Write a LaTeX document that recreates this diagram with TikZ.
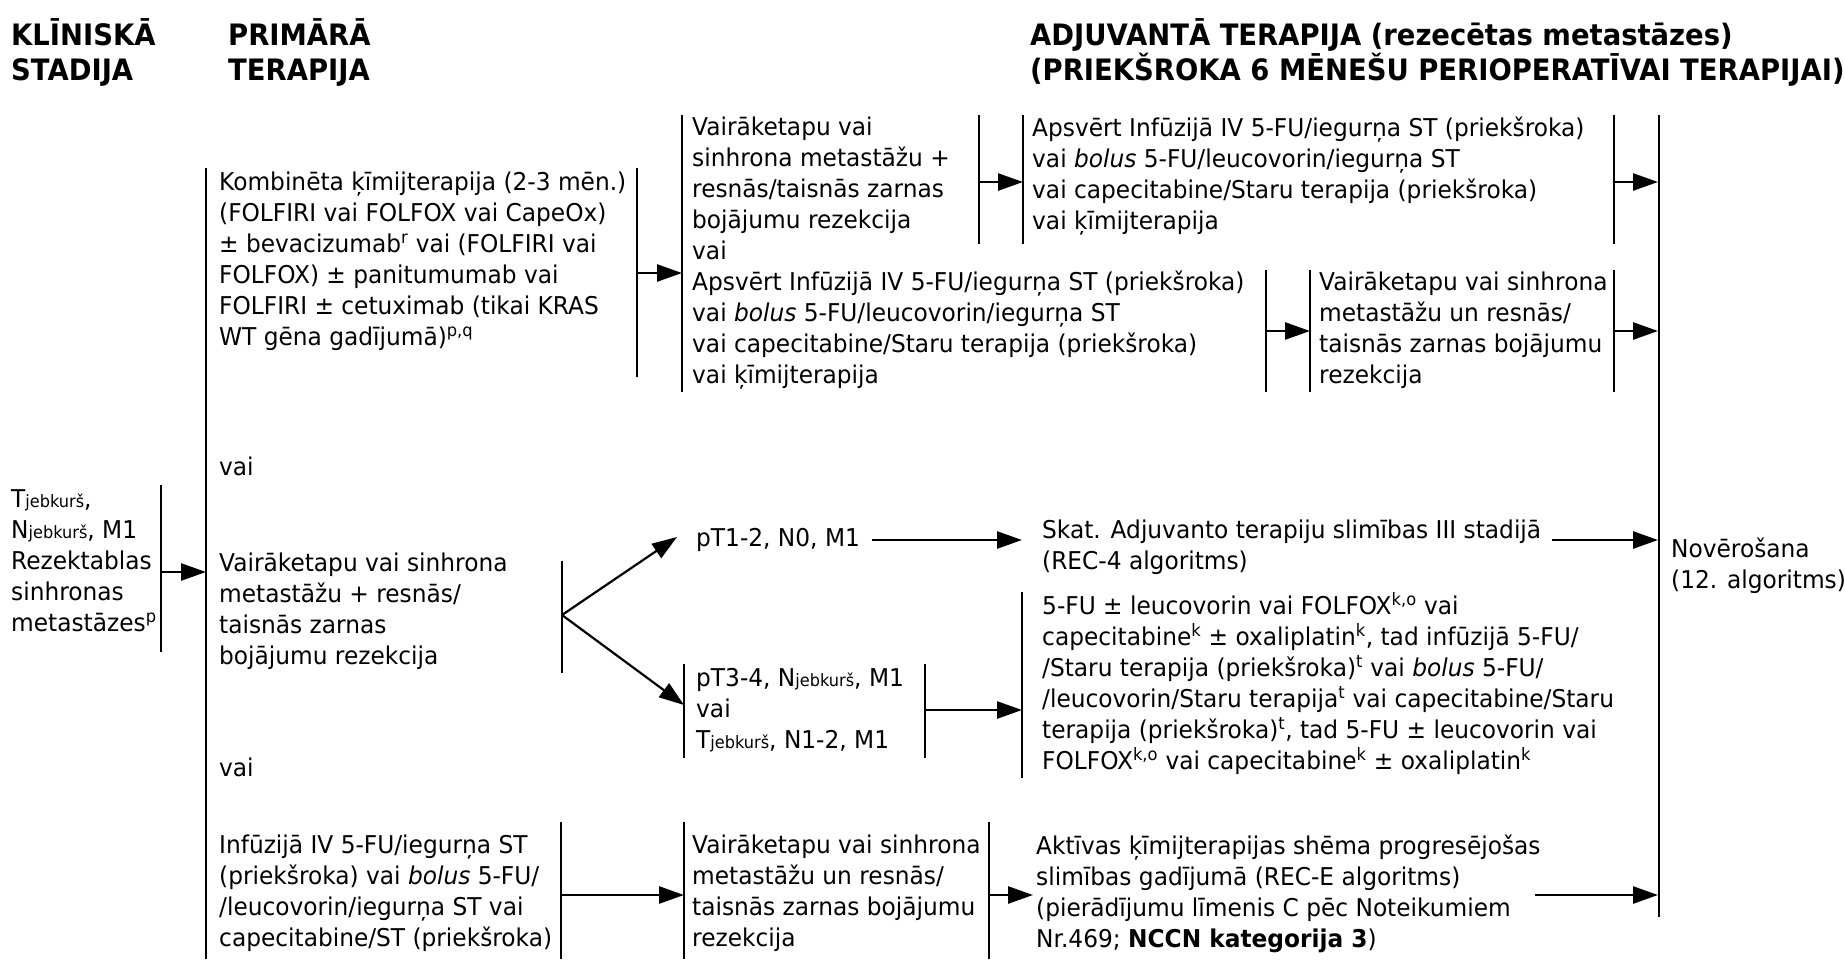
\documentclass[tikz,border=0pt]{standalone}
\usepackage{fontspec}
\setmainfont{DejaVu Sans}[FakeStretch=0.95]
\newfontfamily\headfont{DejaVu Sans}[FakeStretch=0.93]
\usetikzlibrary{arrows.meta}
% smaller qualifier letters after T / N
\newcommand\qual[1]{{\fontsize{17}{17}\selectfont #1}}
\newcommand\ssup[1]{\textsuperscript{#1}}
\begin{document}
\begin{tikzpicture}[x=1pt,y=-1pt,
  txt/.style={anchor=north west, inner sep=0pt, align=left,
    font=\fontsize{24.5}{31}\selectfont, execute at begin node=\strut},
  head/.style={anchor=north west, inner sep=0pt, align=left,
    font=\fontsize{29.5}{35}\headfont\bfseries, execute at begin node=\strut},
  bar/.style={line width=1.6pt},
  bigbar/.style={line width=2.3pt},
  arr/.style={line width=2.6pt, -{Triangle[length=25pt,width=17pt]}},
  fork/.style={line width=2.2pt, -{Triangle[length=25pt,width=17pt]}}]
\useasboundingbox (0,0) rectangle (1845,959);

% ---------- column headings ----------
\node[head] (hStage) at (11,18.5) {KLĪNISKĀ\\STADIJA};
\node[head] (hPrim) at (228,18.5) {PRIMĀRĀ\\TERAPIJA};
\node[head] (hAdj) at (1030,18.5) {ADJUVANTĀ TERAPIJA (rezecētas metastāzes)\\(PRIEKŠROKA 6 MĒNEŠU PERIOPERATĪVAI TERAPIJAI)};

% ---------- clinical stage ----------
\node[txt] (stage) at (11,489.3) {T\qual{jebkurš},\\N\qual{jebkurš}, M1\\Rezektablas\\sinhronas\\metastāzes\ssup{p}};

% ---------- primary therapy ----------
\node[txt] (combo) at (219,171.3) {Kombinēta ķīmijterapija (2-3 mēn.)\\(FOLFIRI vai FOLFOX vai CapeOx)\\± bevacizumab\ssup{r} vai (FOLFIRI vai\\FOLFOX) ± panitumumab vai\\FOLFIRI ± cetuximab (tikai KRAS\\WT gēna gadījumā)\ssup{p,q}};
\node[txt] (or1) at (219,453.3) {vai};
\node[txt] (resect) at (219,552.3) {Vairāketapu vai sinhrona\\metastāžu + resnās/\\taisnās zarnas\\bojājumu rezekcija};
\node[txt] (or2) at (219,754.3) {vai};
\node[txt] (infuse) at (219,834.3) {Infūzijā IV 5-FU/iegurņa ST\\(priekšroka) vai \textit{bolus} 5-FU/\\/leucovorin/iegurņa ST vai\\capecitabine/ST (priekšroka)};

% ---------- upper branch ----------
\node[txt] (upF) at (692,116.3) {Vairāketapu vai\\sinhrona metastāžu +\\resnās/taisnās zarnas\\bojājumu rezekcija\\vai\\Apsvērt Infūzijā IV 5-FU/iegurņa ST (priekšroka)\\vai \textit{bolus} 5-FU/leucovorin/iegurņa ST\\vai capecitabine/Staru terapija (priekšroka)\\vai ķīmijterapija};
\node[txt] (upG) at (1032,116.3) {Apsvērt Infūzijā IV 5-FU/iegurņa ST (priekšroka)\\vai \textit{bolus} 5-FU/leucovorin/iegurņa ST\\vai capecitabine/Staru terapija (priekšroka)\\vai ķīmijterapija};
\node[txt] (upH) at (1319,271.3) {Vairāketapu vai sinhrona\\metastāžu un resnās/\\taisnās zarnas bojājumu\\rezekcija};

% ---------- middle branch ----------
\node[txt] (p12) at (696,524.3) {pT1-2, N0, M1};
\node[txt] (seeIII) at (1042,519.3) {Skat. Adjuvanto terapiju slimības III stadijā\\(REC-4 algoritms)};
\node[txt] (p34) at (696,668.3) {pT3-4, N\qual{jebkurš}, M1\\vai\\T\qual{jebkurš}, N1-2, M1};
\node[txt] (adjLong) at (1042,592.3) {5-FU ± leucovorin vai FOLFOX\ssup{k,o} vai\\capecitabine\ssup{k} ± oxaliplatin\ssup{k}, tad infūzijā 5-FU/\\/Staru terapija (priekšroka)\ssup{t} vai \textit{bolus} 5-FU/\\/leucovorin/Staru terapija\ssup{t} vai capecitabine/Staru\\terapija (priekšroka)\ssup{t}, tad 5-FU ± leucovorin vai\\FOLFOX\ssup{k,o} vai capecitabine\ssup{k} ± oxaliplatin\ssup{k}};

% ---------- lower branch ----------
\node[txt] (lowD) at (692,834.3) {Vairāketapu vai sinhrona\\metastāžu un resnās/\\taisnās zarnas bojājumu\\rezekcija};
\node[txt] (lowE) at (1036,834.3) {Aktīvas ķīmijterapijas shēma progresējošas\\slimības gadījumā (REC-E algoritms)\\(pierādījumu līmenis C pēc Noteikumiem\\Nr.469; \textbf{NCCN kategorija 3})};

% ---------- follow-up ----------
\node[txt] (follow) at (1671,537.3) {Novērošana\\(12. algoritms)};

% ---------- bracket bars ----------
\coordinate (stageR-t) at (161,485);  \coordinate (stageR-b) at (161,652);
\coordinate (primL-t)  at (206,168);  \coordinate (primL-b)  at (206,959);
\coordinate (comboR-t) at (637,168);  \coordinate (comboR-b) at (637,377);
\coordinate (upL-t)    at (682,115);  \coordinate (upL-b)    at (682,392);
\coordinate (upFR-t)   at (979,115);  \coordinate (upFR-b)   at (979,244);
\coordinate (upGL-t)   at (1023,115); \coordinate (upGL-b)   at (1023,244);
\coordinate (upGR-t)   at (1614,115); \coordinate (upGR-b)   at (1614,244);
\coordinate (upF2R-t)  at (1266,270); \coordinate (upF2R-b)  at (1266,392);
\coordinate (upHL-t)   at (1310,270); \coordinate (upHL-b)   at (1310,392);
\coordinate (upHR-t)   at (1614,270); \coordinate (upHR-b)   at (1614,392);
\coordinate (endR-t)   at (1659,115); \coordinate (endR-b)   at (1659,917);
\coordinate (forkL-t)  at (562,561);  \coordinate (forkL-b)  at (562,673);
\coordinate (p34L-t)   at (684,664);  \coordinate (p34L-b)   at (684,758);
\coordinate (p34R-t)   at (925,664);  \coordinate (p34R-b)   at (925,758);
\coordinate (longL-t)  at (1022,592); \coordinate (longL-b)  at (1022,778);
\coordinate (infR-t)   at (561,822);  \coordinate (infR-b)   at (561,959);
\coordinate (lowDL-t)  at (684,822);  \coordinate (lowDL-b)  at (684,959);
\coordinate (lowDR-t)  at (989,822);  \coordinate (lowDR-b)  at (989,959);

\foreach \b in {stageR,primL,comboR,upL,upFR,upGL,upGR,upF2R,upHL,upHR,forkL,p34L,p34R,longL,infR,lowDL,lowDR}
  \draw[bar] (\b-t) -- (\b-b);
\draw[bigbar] (endR-t) -- (endR-b);

% ---------- connectors ----------
\coordinate (fork) at (562,615);
\coordinate (seeEnd) at (1552,540);
\coordinate (actEnd) at (1535,895);
\draw[arr] (stageR-t |- 0,572) -- (primL-t |- 0,572);
\draw[arr] (comboR-t |- 0,273) -- (upL-t |- 0,273);
\draw[arr] (upFR-t |- 0,182) -- (upGL-t |- 0,182);
\draw[arr] (upGR-t |- 0,182) -- ([xshift=-1pt]endR-t |- 0,182);
\draw[arr] (upF2R-t |- 0,331) -- (upHL-t |- 0,331);
\draw[arr] (upHR-t |- 0,331) -- ([xshift=-1pt]endR-t |- 0,331);
\draw[fork] (fork) -- ([xshift=-19pt,yshift=3pt]p12.west);
\draw[fork] (fork) -- (p34L-t |- 0,705);
\draw[arr] ([xshift=12pt]p12.east |- 0,540) -- (longL-t |- 0,540);
\draw[arr] (seeEnd) -- ([xshift=-1pt]endR-t |- seeEnd);
\draw[arr] (p34R-t |- 0,710) -- (longL-t |- 0,710);
\draw[arr] (infR-t |- 0,895) -- (lowDL-t |- 0,895);
\draw[arr] (lowDR-t |- 0,895) -- ([xshift=-3pt]lowE.west |- 0,895);
\draw[arr] (actEnd) -- ([xshift=-1pt]endR-t |- actEnd);
\end{tikzpicture}
\end{document}
